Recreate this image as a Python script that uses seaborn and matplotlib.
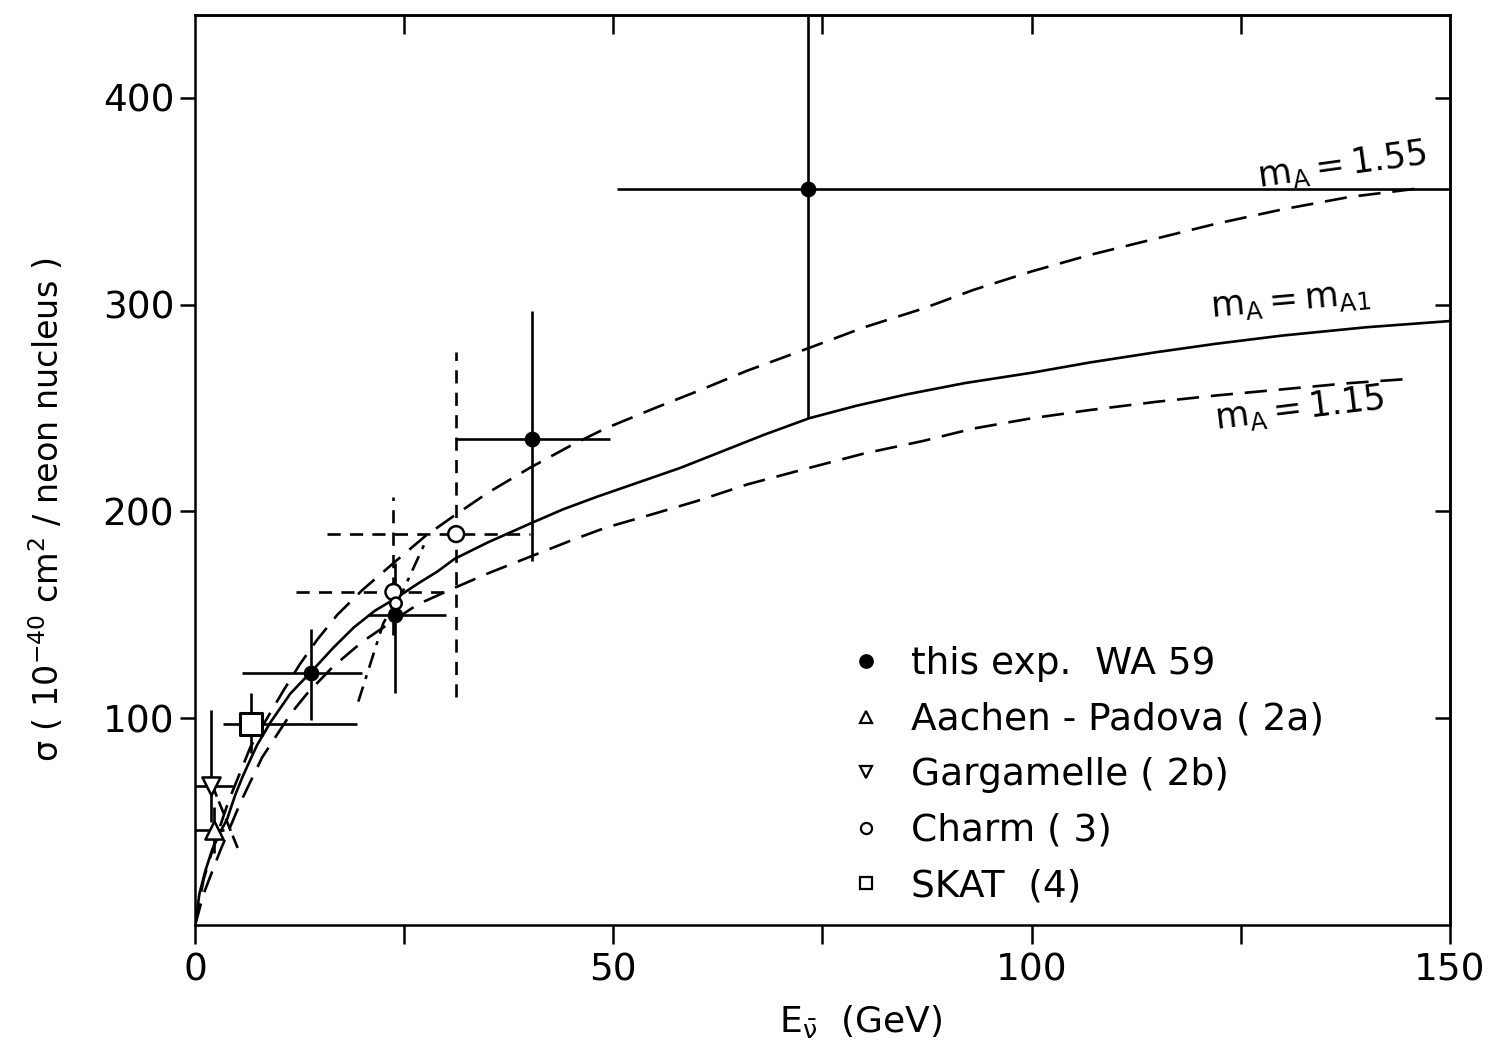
import matplotlib

matplotlib.use("Agg")
import matplotlib.pyplot as plt
import numpy as np
import seaborn as sns
from matplotlib.lines import Line2D

sns.set_style("ticks")
plt.rcParams["font.family"] = ["DejaVu Sans"]
plt.rcParams["mathtext.default"] = "regular"
plt.rcParams["text.color"] = "black"
plt.rcParams["axes.labelcolor"] = "black"
plt.rcParams["xtick.color"] = "black"
plt.rcParams["ytick.color"] = "black"

# --- theory curves ---
e_mA1 = [0, 0.5, 1.2, 2, 3, 3.8, 4.8, 5.7, 6.6, 7.4, 9, 11.4, 14, 16.5, 19, 21.5, 24, 26.6, 29, 31,
         35, 40, 44, 48, 53, 58, 63, 68, 73.4, 79, 85, 92, 100, 107, 115, 122, 130, 140, 150]
sig_mA1 = [0, 15, 26, 36, 45, 51, 63, 72, 80, 87, 98, 112, 123, 134, 144, 152, 158, 165, 171, 177,
           185, 194, 201, 207, 214, 221, 229, 237, 245, 251, 256.5, 262, 267, 272, 277, 281, 285, 289, 292]

e_155 = [0, 1, 2.5, 4, 6.6, 8.6, 10.5, 12.5, 14.6, 17, 20, 24, 27.5, 31, 35, 40, 45, 49, 55, 60,
         66, 73.4, 80, 87, 93, 100, 107, 115, 122, 130, 138, 146]
sig_155 = [0, 22, 42, 60, 86, 100, 113, 126, 138, 150, 162, 176, 188, 198, 209, 221, 232, 240, 250, 258,
           268, 279, 289, 298, 307, 316, 324, 332, 339, 346, 352, 356]

e_115 = [0, 1, 3, 5.5, 8, 11.4, 13.4, 16.5, 20, 24, 26.6, 31, 35, 40, 45, 49, 55, 60, 66, 73.4,
         80, 87, 93, 100, 107, 115, 122, 130, 138, 145]
sig_115 = [0, 15, 36, 60, 81, 102, 112, 125, 137, 148, 155, 163, 170, 178, 186, 192, 199, 205, 213, 221,
           228, 234, 240, 245, 249, 253, 256, 259, 262, 264]

# short steep dash-dot curve and the small line through the low-energy points
e_dd = [19.5, 22.5, 24.9, 27.5]
sig_dd = [108, 146, 162, 185]
e_low = [2.0, 5.3]
sig_low = [68, 35]

# --- data points: value, lower / upper bounds ---
wa59_e = [13.8, 23.9, 40.3, 73.3]
wa59_sig = [122, 150, 235, 356]
wa59_e_lo = [5.6, 20.7, 31.1, 50.4]
wa59_e_hi = [20.0, 30.0, 49.6, 150]
wa59_sig_lo = [99, 112, 176, 245]
wa59_sig_hi = [143, 175, 297, 460]

charm_e = [23.7, 31.2, 24.0]
charm_sig = [161, 189, 155.5]
charm_e_lo = [12.0, 15.8, 24.0]
charm_e_hi = [30.5, 40.0, 24.0]
charm_sig_lo = [140, 110, 155.5]
charm_sig_hi = [207, 277, 155.5]

garg_e = [1.9]
garg_sig = [67]
garg_e_lo = [0.0]
garg_e_hi = [4.5]
garg_sig_lo = [50]
garg_sig_hi = [104]

aachen_e = [2.3]
aachen_sig = [46]
aachen_e_lo = [0.0]
aachen_e_hi = [3.4]
aachen_sig_lo = [35]
aachen_sig_hi = [57]

skat_e = [6.7]
skat_sig = [97]
skat_e_lo = [3.3]
skat_e_hi = [19.4]
skat_sig_lo = [83]
skat_sig_hi = [112]

curve_labels = [r"$m_A = 1.55$", r"$m_A = m_{A1}$", r"$m_A = 1.15$"]
legend_labels = ["this exp.  WA 59", "Aachen - Padova ( 2a)", "Gargamelle ( 2b)", "Charm ( 3)", "SKAT  (4)"]

fig = plt.figure(figsize=(14.9, 10.54), dpi=100)
ax = fig.add_axes([0.131, 0.1224, 0.842, 0.8634])

LW = 1.9
curve_kw = dict(color="black", linewidth=LW, estimator=None, sort=False, legend=False, ax=ax)

sns.lineplot(x=e_mA1, y=sig_mA1, **curve_kw)
sns.lineplot(x=e_155, y=sig_155, **curve_kw)
ax.lines[-1].set_dashes([8.4, 4.5])
sns.lineplot(x=e_115, y=sig_115, **curve_kw)
ax.lines[-1].set_dashes([8.4, 4.5])
sns.lineplot(x=e_dd, y=sig_dd, **curve_kw)
ax.lines[-1].set_dashes([6, 3, 1.5, 3])
sns.lineplot(x=e_low, y=sig_low, **curve_kw)
ax.lines[-1].set_dashes([5, 2])


def draw_errors(e, s, e_lo, e_hi, s_lo, s_hi, dashed=False):
    e, s = np.array(e), np.array(s)
    xerr = [e - np.array(e_lo), np.array(e_hi) - e]
    yerr = [s - np.array(s_lo), np.array(s_hi) - s]
    eb = ax.errorbar(e, s, xerr=xerr, yerr=yerr, fmt="none", ecolor="black",
                     elinewidth=1.9, capsize=0, zorder=3)
    if dashed:
        for lc in eb[2]:
            lc.set_linestyle((0, (5, 3.5)))


draw_errors(wa59_e, wa59_sig, wa59_e_lo, wa59_e_hi, wa59_sig_lo, wa59_sig_hi)
draw_errors(charm_e, charm_sig, charm_e_lo, charm_e_hi, charm_sig_lo, charm_sig_hi, dashed=True)
draw_errors(garg_e, garg_sig, garg_e_lo, garg_e_hi, garg_sig_lo, garg_sig_hi)
draw_errors(aachen_e, aachen_sig, aachen_e_lo, aachen_e_hi, aachen_sig_lo, aachen_sig_hi)
draw_errors(skat_e, skat_sig, skat_e_lo, skat_e_hi, skat_sig_lo, skat_sig_hi)

sns.scatterplot(x=wa59_e, y=wa59_sig, ax=ax, marker="o", s=110, color="black",
                edgecolor="black", zorder=5, legend=False)
sns.scatterplot(x=charm_e, y=charm_sig, ax=ax, marker="o", s=[130, 130, 70], color="white",
                edgecolor="black", linewidth=1.8, zorder=5, legend=False)
sns.scatterplot(x=garg_e, y=garg_sig, ax=ax, marker="v", s=170, color="white",
                edgecolor="black", linewidth=1.8, zorder=5, legend=False)
sns.scatterplot(x=aachen_e, y=aachen_sig, ax=ax, marker="^", s=170, color="white",
                edgecolor="black", linewidth=1.8, zorder=5, legend=False)
sns.scatterplot(x=skat_e, y=skat_sig, ax=ax, marker="s", s=230, color="white",
                edgecolor="black", linewidth=2.2, zorder=5, legend=False)

# curve labels
ax.text(127.2, 357, curve_labels[0], fontsize=25, rotation=8, rotation_mode="anchor")
ax.text(121.5, 294, curve_labels[1], fontsize=25, rotation=5, rotation_mode="anchor")
ax.text(122.0, 240, curve_labels[2], fontsize=25, rotation=7, rotation_mode="anchor")

# legend
mk = dict(color="black", linestyle="none", markeredgewidth=1.6)
handles = [
    Line2D([], [], marker="o", markersize=9, markerfacecolor="black", **mk),
    Line2D([], [], marker="^", markersize=9, markerfacecolor="white", **mk),
    Line2D([], [], marker="v", markersize=9, markerfacecolor="white", **mk),
    Line2D([], [], marker="o", markersize=8, markerfacecolor="white", **mk),
    Line2D([], [], marker="s", markersize=9, markerfacecolor="white", **mk),
]
ax.legend(handles=handles, labels=legend_labels, loc="lower left",
          bbox_to_anchor=(0.502, -0.006), frameon=False, fontsize=27,
          handlelength=0.8, handletextpad=0.8, labelspacing=0.52, borderpad=0.2)

# axes, ticks
ax.set_xlim(0, 150)
ax.set_ylim(0, 440)
ax.set_xticks([0, 50, 100, 150])
ax.set_xticks([25, 75, 125], minor=True)
ax.set_yticks([100, 200, 300, 400])
ax.tick_params(axis="x", which="both", direction="out", length=14, width=1.8,
               labelsize=27, pad=6, top=False)
ax.tick_params(axis="y", direction="out", length=11, width=1.8, labelsize=27, pad=4, right=False)

top = ax.secondary_xaxis("top")
top.set_xticks([25, 50, 75, 100, 125])
top.tick_params(direction="in", length=14, width=1.8, labeltop=False)
right = ax.secondary_yaxis("right")
right.set_yticks([100, 200, 300, 400])
right.tick_params(direction="in", length=11, width=1.8, labelright=False)

for sp in list(ax.spines.values()) + [top.spines["top"], right.spines["right"]]:
    sp.set_linewidth(1.8)
    sp.set_color("black")

ax.set_xlabel(r"E$_{\bar{\nu}}$  (GeV)", fontsize=26)
ax.xaxis.set_label_coords(0.53, -0.086)
ax.set_ylabel(r"$\sigma$ ( 10$^{-40}$ cm$^2$ / neon nucleus )", fontsize=24)
ax.yaxis.set_label_coords(-0.103, 0.456)

fig.savefig("out.png", dpi=100)
